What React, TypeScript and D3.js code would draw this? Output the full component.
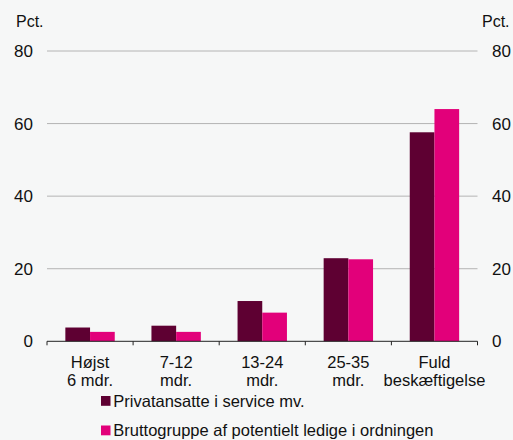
import React from "react";
import * as d3 from "d3";

const categories = [["Højst", "6 mdr."], ["7-12", "mdr."], ["13-24", "mdr."], ["25-35", "mdr."], ["Fuld", "beskæftigelse"]];
const seriesNames = ["Privatansatte i service mv.", "Bruttogruppe af potentielt ledige i ordningen"];
const privat = [3.8, 4.3, 11.1, 22.9, 57.6];
const brutto = [2.6, 2.6, 7.9, 22.6, 64.0];
const yTicks = [0, 20, 40, 60, 80];
const colors = ["#5e0032", "#e2007a"];

export default function App() {
  const W = 513, H = 440;
  const x0 = 47, x1 = 477.5;
  const y = d3.scaleLinear().domain([0, 80]).range([341.3, 51]);
  const xb = d3.scaleBand().domain(categories.map((_, i) => String(i))).range([x0, x1]).paddingInner(0).paddingOuter(0);
  const bw = 24.7;
  const font = "'Liberation Sans', Arial, sans-serif";
  const series = [privat, brutto];
  const fs = 16.5;
  return (
    <svg width={W} height={H} style={{ position: "absolute", left: 0, top: 0, background: "#f6f7f7" }} fontFamily={font}>
      <rect x={0} y={0} width={W} height={H} fill="#f6f7f7" />
      {yTicks.filter(t => t > 0).map(t => (
        <line key={t} x1={x0} x2={x1} y1={y(t)} y2={y(t)} stroke="#b4b4b4" strokeWidth={1} />
      ))}
      {yTicks.map(t => (
        <g key={"l" + t}>
          <text x={33} y={y(t) + 6} textAnchor="end" fontSize={17} fill="#111">{t}</text>
          <text x={492} y={y(t) + 6} textAnchor="start" fontSize={17} fill="#111">{t}</text>
        </g>
      ))}
      <text x={16} y={27.3} fontSize={16} fill="#111">Pct.</text>
      <text x={482} y={27.3} fontSize={16} fill="#111">Pct.</text>
      {series.map((vals, s) =>
        vals.map((v, i) => {
          const cx = xb(String(i))! + xb.bandwidth() / 2;
          const bx = cx - bw + s * bw;
          return <rect key={s + "-" + i} x={bx} y={y(v)} width={bw} height={y(0) - y(v)} fill={colors[s]} />;
        })
      )}
      <line x1={x0} x2={x1} y1={y(0)} y2={y(0)} stroke="#222" strokeWidth={1} />
      {d3.range(categories.length + 1).map(i => {
        const tx = x0 + i * xb.bandwidth();
        return <line key={"t" + i} x1={tx} x2={tx} y1={y(0)} y2={y(0) + 4} stroke="#222" strokeWidth={1} />;
      })}
      {categories.map((c, i) => {
        const cx = xb(String(i))! + xb.bandwidth() / 2;
        return (
          <text key={"c" + i} x={cx} textAnchor="middle" fontSize={fs} fill="#111">
            <tspan x={cx} y={367.7}>{c[0]}</tspan>
            <tspan x={cx} y={386}>{c[1]}</tspan>
          </text>
        );
      })}
      {seriesNames.map((n, s) => (
        <g key={"lg" + s}>
          <rect x={101} y={396 + s * 29.5} width={9.5} height={9.8} fill={colors[s]} />
          <text x={113.3} y={406.7 + s * 28.8} fontSize={fs} fill="#111">{n}</text>
        </g>
      ))}
    </svg>
  );
}
